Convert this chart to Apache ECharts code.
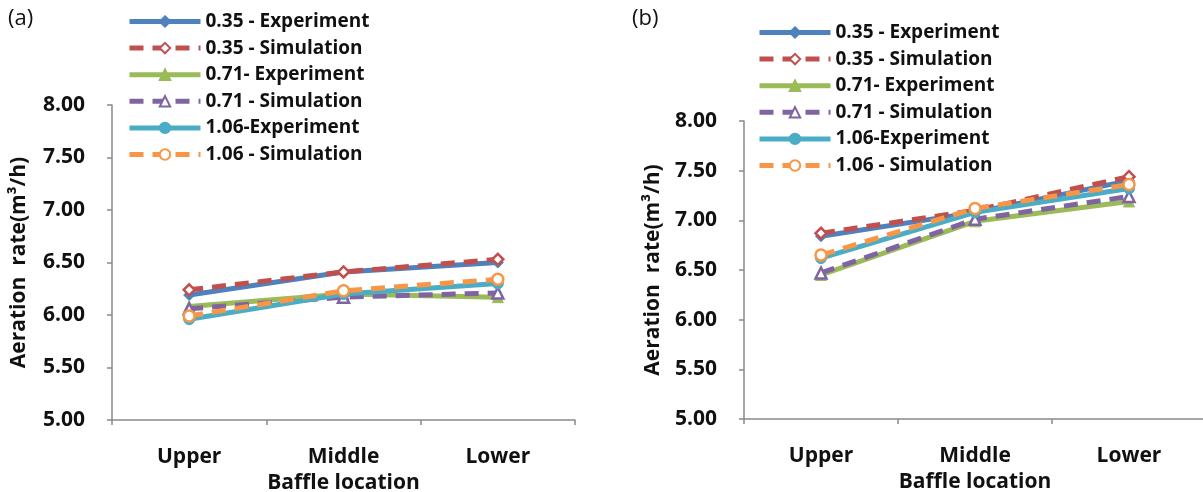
<!DOCTYPE html>
<html>
<head>
<meta charset="utf-8">
<script src="https://cdn.jsdelivr.net/npm/echarts@6/dist/echarts.min.js"></script>
<style>html,body{margin:0;padding:0;background:#fff;}#c{width:1203px;height:492px;}</style>
</head>
<body>
<div id="c"></div>
<script>
var categories = ['Upper', 'Middle', 'Lower'];
var yTicks = [5.0, 5.5, 6.0, 6.5, 7.0, 7.5, 8.0];
var seriesNames = ['0.35 - Experiment', '0.35 - Simulation', '0.71- Experiment', '0.71 - Simulation', '1.06-Experiment', '1.06 - Simulation'];

// Panel (a)
var a_exp035 = [6.19, 6.41, 6.50];
var a_sim035 = [6.24, 6.41, 6.53];
var a_exp071 = [6.08, 6.20, 6.17];
var a_sim071 = [6.06, 6.17, 6.21];
var a_exp106 = [5.96, 6.20, 6.30];
var a_sim106 = [5.99, 6.23, 6.34];

// Panel (b)
var b_exp035 = [6.84, 7.08, 7.40];
var b_sim035 = [6.87, 7.10, 7.44];
var b_exp071 = [6.45, 6.99, 7.19];
var b_sim071 = [6.47, 7.01, 7.24];
var b_exp106 = [6.62, 7.08, 7.32];
var b_sim106 = [6.65, 7.12, 7.36];

var colors = ['#4F81BD', '#C0504D', '#9BBB59', '#8064A2', '#4BACC6', '#F79646'];
var symbols = ['diamond', 'diamond', 'triangle', 'triangle', 'circle', 'circle'];
var FONT = 'Open Sans';

function mkSeries(gi, data) {
  return data.map(function (d, i) {
    var sim = (i % 2 === 1);
    return {
      name: seriesNames[i], type: 'line', xAxisIndex: gi, yAxisIndex: gi,
      data: d, symbol: symbols[i], symbolSize: 11,
      lineStyle: { color: colors[i], width: 5, type: sim ? [14, 9] : 'solid' },
      itemStyle: { color: sim ? '#fff' : colors[i], borderColor: colors[i], borderWidth: sim ? 2.5 : 1 },
      emphasis: { disabled: true }, animation: false, z: 2 + i
    };
  });
}

function xAx(gi) {
  return {
    type: 'category', gridIndex: gi, data: categories, boundaryGap: true,
    axisLine: { lineStyle: { color: '#8a8a8a', width: 1.5 } },
    axisTick: { show: true, length: 5, lineStyle: { color: '#8a8a8a', width: 1.5 } },
    axisLabel: { margin: 27, color: '#111', fontFamily: FONT, fontWeight: 'bold', fontSize: 21 },
    name: 'Baffle location', nameLocation: 'middle', nameGap: 50,
    nameTextStyle: { color: '#111', fontFamily: FONT, fontWeight: 'bold', fontSize: 21 }
  };
}
function yAx(gi, gap) {
  return {
    type: 'value', gridIndex: gi, min: yTicks[0], max: yTicks[yTicks.length - 1], interval: 0.5,
    splitLine: { show: false },
    axisLine: { show: true, lineStyle: { color: '#8a8a8a', width: 1.5 } },
    axisTick: { show: true, length: 5, lineStyle: { color: '#8a8a8a', width: 1.5 } },
    axisLabel: { margin: 27, color: '#111', fontFamily: FONT, fontWeight: 'bold', fontSize: 21,
      formatter: function (v) { return v.toFixed(2); } },
    name: 'Aeration  rate(m\u00B3/h)', nameLocation: 'middle', nameGap: gap,
    nameTextStyle: { color: '#111', fontFamily: FONT, fontWeight: 'bold', fontSize: 21 }
  };
}
function legend(left, top) {
  return {
    orient: 'vertical', left: left, top: top, data: seriesNames, padding: 0,
    itemWidth: 71, itemHeight: 13, itemGap: 7.6,
    lineStyle: { width: 5 },
    textStyle: { color: '#111', fontFamily: FONT, fontWeight: 'bold', fontSize: 19, lineHeight: 19 },
    selectedMode: false
  };
}

var chart = echarts.init(document.getElementById('c'), null, { renderer: 'canvas' });
chart.setOption({
  animation: false,
  backgroundColor: '#fff',
  grid: [
    { left: 112, top: 105, width: 463, height: 315, outerBoundsMode: 'none', containLabel: false },
    { left: 744, top: 121, width: 462, height: 298, outerBoundsMode: 'none', containLabel: false }
  ],
  xAxis: [xAx(0), xAx(1)],
  yAxis: [yAx(0, 82), yAx(1, 80)],
  legend: [legend(127, 12), legend(757, 23)],
  graphic: [
    { type: 'text', left: 8, top: 8, style: { text: '(a)', fontSize: 22, fontFamily: FONT, fill: '#111' } },
    { type: 'text', left: 632, top: 8, style: { text: '(b)', fontSize: 22, fontFamily: FONT, fill: '#111' } }
  ],
  series: mkSeries(0, [a_exp035, a_sim035, a_exp071, a_sim071, a_exp106, a_sim106])
    .concat(mkSeries(1, [b_exp035, b_sim035, b_exp071, b_sim071, b_exp106, b_sim106]))
});
</script>
</body>
</html>
